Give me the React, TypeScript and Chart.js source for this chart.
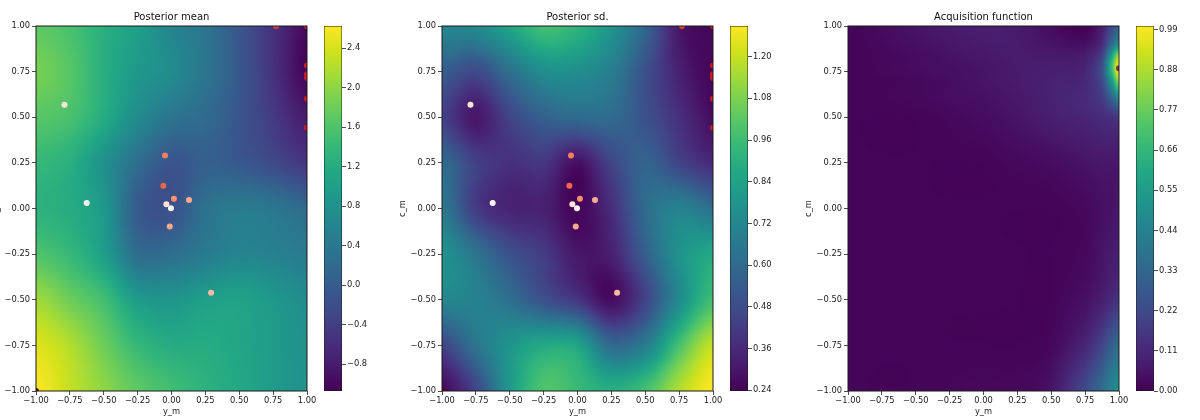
import React, { useEffect, useRef } from "react";
import { Chart, registerables } from "chart.js";
Chart.register(...registerables);

// ---------- data ----------
const axisTicks = [-1, -0.75, -0.5, -0.25, 0, 0.25, 0.5, 0.75, 1];
const gridX = [-1, -0.75, -0.5, -0.25, 0, 0.25, 0.5, 0.75, 1];
const gridY = [1, 0.75, 0.5, 0.25, 0, -0.25, -0.5, -0.75, -1];

// Posterior mean (rows = gridY top->bottom, cols = gridX)
const meanGrid = [
  [1.7, 1.55, 1.25, 1.0, 0.6, 0.35, -0.1, -0.55, -1.0],
  [1.85, 1.65, 1.25, 0.9, 0.7, 0.35, -0.05, -0.55, -1.05],
  [1.65, 1.55, 1.2, 0.7, 0.35, 0.2, -0.1, -0.45, -0.8],
  [1.4, 1.25, 0.8, 0.25, -0.1, 0.05, -0.05, -0.25, -0.5],
  [1.3, 1.2, 0.9, 0.0, -0.15, 0.3, 0.45, 0.38, 0.2],
  [1.6, 1.4, 1.0, 0.25, 0.25, 0.45, 0.6, 0.55, 0.45],
  [2.1, 1.8, 1.5, 0.95, 0.85, 1.0, 1.05, 0.9, 0.72],
  [2.45, 2.2, 1.8, 1.4, 1.2, 1.2, 1.1, 0.95, 0.78],
  [2.62, 2.3, 2.0, 1.7, 1.5, 1.3, 1.15, 0.95, 0.8],
];

// Posterior sd.
const sdGrid = [
  [0.72, 0.74, 0.85, 0.97, 0.92, 0.78, 0.58, 0.3, 0.26],
  [0.55, 0.47, 0.62, 0.75, 0.75, 0.68, 0.5, 0.33, 0.25],
  [0.44, 0.3, 0.45, 0.56, 0.6, 0.6, 0.5, 0.38, 0.27],
  [0.6, 0.44, 0.38, 0.4, 0.28, 0.45, 0.57, 0.45, 0.36],
  [0.66, 0.42, 0.34, 0.33, 0.25, 0.37, 0.6, 0.7, 0.62],
  [0.77, 0.64, 0.5, 0.42, 0.3, 0.33, 0.55, 0.77, 0.87],
  [0.72, 0.7, 0.62, 0.5, 0.4, 0.27, 0.45, 0.74, 0.97],
  [0.45, 0.64, 0.78, 0.87, 0.85, 0.6, 0.68, 0.98, 1.2],
  [0.25, 0.45, 0.8, 1.0, 0.95, 0.9, 0.98, 1.17, 1.29],
];

// Acquisition function (non-uniform grid to keep the narrow peak)
const acqGridX = [-1, -0.5, 0, 0.25, 0.5, 0.75, 0.875, 0.95, 1];
const acqGridY = [1, 0.9, 0.83, 0.77, 0.7, 0.6, 0.5, 0.25, 0, -0.25, -0.5, -0.75, -1];
const acqGrid = [
  [0.01, 0.05, 0.08, 0.07, 0.03, 0.0, 0.08, 0.22, 0.3],
  [0.01, 0.04, 0.07, 0.07, 0.05, 0.04, 0.12, 0.35, 0.5],
  [0.01, 0.03, 0.06, 0.07, 0.07, 0.08, 0.2, 0.6, 0.9],
  [0.01, 0.03, 0.05, 0.07, 0.08, 0.1, 0.25, 0.7, 1.0],
  [0.01, 0.02, 0.05, 0.07, 0.09, 0.11, 0.22, 0.55, 0.85],
  [0.01, 0.02, 0.04, 0.06, 0.09, 0.12, 0.17, 0.3, 0.45],
  [0.01, 0.01, 0.03, 0.05, 0.08, 0.1, 0.12, 0.14, 0.15],
  [0.01, 0.01, 0.01, 0.02, 0.03, 0.05, 0.06, 0.06, 0.06],
  [0.01, 0.01, 0.01, 0.01, 0.01, 0.02, 0.04, 0.05, 0.06],
  [0.01, 0.01, 0.01, 0.01, 0.01, 0.02, 0.05, 0.07, 0.08],
  [0.01, 0.01, 0.01, 0.01, 0.01, 0.04, 0.08, 0.12, 0.15],
  [0.01, 0.01, 0.01, 0.01, 0.02, 0.1, 0.2, 0.3, 0.35],
  [0.01, 0.01, 0.02, 0.02, 0.05, 0.22, 0.35, 0.45, 0.5],
];

// Observed points
const obsX = [-0.79, -0.048, -0.06, -0.626, -0.038, 0.018, 0.129, -0.004, -0.013, 0.292, 0.771, 1, 1, 1, 1, 1, 1, -1];
const obsY = [0.569, 0.291, 0.125, 0.03, 0.023, 0.054, 0.047, 0.001, -0.098, -0.461, 1, 1, 0.783, 0.735, 0.715, 0.602, 0.443, -1];
const obsColors = [
  "#fde5d9", "#f4805f", "#f26848", "#fff5f0", "#fee3d6", "#f9906f", "#fcab8f", "#fff5f0", "#fba98a",
  "#fcbba1", "#e2412f", "#cf1c1f", "#cf1c1f", "#cf1c1f", "#cf1c1f", "#cf1c1f", "#cf1c1f", "#67000d",
];
const nextX = [1];
const nextY = [0.768];
const nextColors = ["#8b2a4a"];

// Colour bars
const meanRange = [-1.073, 2.623];
const meanTicks = [-0.8, -0.4, 0.0, 0.4, 0.8, 1.2, 1.6, 2.0, 2.4];
const sdRange = [0.238, 1.288];
const sdTicks = [0.24, 0.36, 0.48, 0.6, 0.72, 0.84, 0.96, 1.08, 1.2];
const acqRange = [0, 1.0];
const acqTicks = [0, 0.11, 0.22, 0.33, 0.44, 0.55, 0.66, 0.77, 0.88, 0.99];

const titles = ["Posterior mean", "Posterior sd.", "Acquisition function"];

// ---------- helpers ----------
const FONT = "'DejaVu Sans', sans-serif";
const TXT = "#222";
const VIRIDIS = [
  "#440154", "#481a6c", "#472f7d", "#414487", "#39568c", "#31688e", "#2a788e", "#23888e",
  "#1f988b", "#22a884", "#35b779", "#54c568", "#7ad151", "#a5db36", "#d2e21b", "#fde725",
].map((h) => [parseInt(h.slice(1, 3), 16), parseInt(h.slice(3, 5), 16), parseInt(h.slice(5, 7), 16)]);

function viridis(t: number): number[] {
  t = Math.max(0, Math.min(1, t));
  const f = t * (VIRIDIS.length - 1);
  const i = Math.min(VIRIDIS.length - 2, Math.floor(f));
  const u = f - i;
  const a = VIRIDIS[i], b = VIRIDIS[i + 1];
  return [a[0] + (b[0] - a[0]) * u, a[1] + (b[1] - a[1]) * u, a[2] + (b[2] - a[2]) * u];
}

function fracIndex(grid: number[], v: number): number {
  const n = grid.length;
  for (let i = 0; i < n - 1; i++) {
    const a = grid[i], b = grid[i + 1];
    if (v >= Math.min(a, b) && v <= Math.max(a, b)) return i + (v - a) / (b - a);
  }
  const asc = grid[n - 1] > grid[0];
  if (asc) return v < grid[0] ? 0 : n - 1;
  return v > grid[0] ? 0 : n - 1;
}

function cubic(p0: number, p1: number, p2: number, p3: number, t: number) {
  return p1 + 0.5 * t * (p2 - p0 + t * (2 * p0 - 5 * p1 + 4 * p2 - p3 + t * (3 * (p1 - p2) + p3 - p0)));
}

function sample(g: number[][], fi: number, fj: number) {
  const rows = g.length, cols = g[0].length;
  const i = Math.min(Math.floor(fi), rows - 2), j = Math.min(Math.floor(fj), cols - 2);
  const ti = fi - i, tj = fj - j;
  const cl = (k: number, n: number) => Math.max(0, Math.min(n - 1, k));
  const rowVal = (r: number) => {
    const R = g[cl(r, rows)];
    return cubic(R[cl(j - 1, cols)], R[cl(j, cols)], R[cl(j + 1, cols)], R[cl(j + 2, cols)], tj);
  };
  return cubic(rowVal(i - 1), rowVal(i), rowVal(i + 1), rowVal(i + 2), ti);
}

function fmt(v: number, d: number) {
  const s = Math.abs(v).toFixed(d);
  return v < -1e-9 ? "\u2212" + s : s;
}

function heatPlugin(gx: number[], gy: number[], grid: number[][], range: number[]) {
  return {
    id: "heat",
    beforeDatasetsDraw(chart: any) {
      const { ctx, chartArea: a, scales } = chart;
      const w = Math.round(a.right - a.left), h = Math.round(a.bottom - a.top);
      const off = document.createElement("canvas");
      off.width = w;
      off.height = h;
      const octx = off.getContext("2d")!;
      const img = octx.createImageData(w, h);
      const fx: number[] = [], fy: number[] = [];
      for (let px = 0; px < w; px++) fx.push(fracIndex(gx, scales.x.getValueForPixel(a.left + px + 0.5)));
      for (let py = 0; py < h; py++) fy.push(fracIndex(gy, scales.y.getValueForPixel(a.top + py + 0.5)));
      for (let py = 0; py < h; py++) {
        for (let px = 0; px < w; px++) {
          const v = sample(grid, fy[py], fx[px]);
          const c = viridis((v - range[0]) / (range[1] - range[0]));
          const k = (py * w + px) * 4;
          img.data[k] = c[0];
          img.data[k + 1] = c[1];
          img.data[k + 2] = c[2];
          img.data[k + 3] = 255;
        }
      }
      octx.putImageData(img, 0, 0);
      ctx.drawImage(off, a.left, a.top, a.right - a.left, a.bottom - a.top);
    },
    afterDatasetsDraw(chart: any) {
      const { ctx, chartArea: a } = chart;
      ctx.save();
      ctx.strokeStyle = "#1a1a1a";
      ctx.lineWidth = 1;
      ctx.strokeRect(a.left, a.top, a.right - a.left, a.bottom - a.top);
      ctx.restore();
    },
  };
}

function axisOpts(kind: "x" | "y", title: string) {
  return {
    type: "linear",
    min: -1,
    max: 1,
    afterBuildTicks: (s: any) => {
      s.ticks = axisTicks.map((v) => ({ value: v }));
    },
    afterFit: (s: any) => {
      if (kind === "x") s.height = 29;
      else s.width = 46;
    },
    grid: { display: true, drawOnChartArea: false, drawTicks: true, tickLength: 4, color: TXT, lineWidth: 0.8 },
    border: { display: false },
    ticks: {
      autoSkip: false,
      maxRotation: 0,
      minRotation: 0,
      padding: kind === "x" ? 1 : 2,
      color: TXT,
      font: { family: FONT, size: 8.3 },
      callback: (v: number) => fmt(v, 2),
    },
    title: {
      display: true,
      text: title,
      color: TXT,
      font: { family: FONT, size: 8.3 },
      padding: kind === "x" ? { top: 0, bottom: 3.4 } : { top: 2, bottom: 0 },
    },
  };
}

function makePanel(canvas: HTMLCanvasElement, title: string, gx: number[], gy: number[], grid: number[][], range: number[], xs: number[], ys: number[], cols: string[]) {
  return new Chart(canvas, {
    type: "scatter",
    data: {
      datasets: [
        {
          data: xs.map((x, i) => ({ x, y: ys[i] })),
          pointBackgroundColor: cols,
          pointBorderWidth: 0,
          pointRadius: 3,
          pointHoverRadius: 3,
          clip: 0,
        } as any,
      ],
    },
    options: {
      responsive: false,
      animation: false,
      events: [],
      layout: { padding: { left: 0, right: 13, top: 0, bottom: 0 } },
      plugins: {
        legend: { display: false },
        tooltip: { enabled: false },
        title: {
          display: true,
          text: title,
          fullSize: false,
          color: "#111",
          font: { family: FONT, size: 10, weight: "normal" },
          padding: { top: 11, bottom: 3 },
        },
      },
      scales: { x: axisOpts("x", "y_m"), y: axisOpts("y", "c_m") } as any,
    },
    plugins: [heatPlugin(gx, gy, grid, range)],
  });
}

function makeColorbar(canvas: HTMLCanvasElement, range: number[], ticks: number[], dec: number) {
  let grad: any = null;
  return new Chart(canvas, {
    type: "bar",
    data: {
      labels: ["cb"],
      datasets: [
        {
          data: [[range[0], range[1]]] as any,
          backgroundColor: (c: any) => {
            const a = c.chart.chartArea;
            if (!a) return "#21918c";
            if (!grad) {
              grad = c.chart.ctx.createLinearGradient(0, a.bottom, 0, a.top);
              VIRIDIS.forEach((rgb, i) => grad.addColorStop(i / (VIRIDIS.length - 1), `rgb(${rgb[0]},${rgb[1]},${rgb[2]})`));
            }
            return grad;
          },
          borderColor: "#1a1a1a",
          borderWidth: 0.8,
          borderSkipped: false,
          barPercentage: 1,
          categoryPercentage: 1,
        } as any,
      ],
    },
    options: {
      responsive: false,
      animation: false,
      events: [],
      layout: { padding: { top: 26, bottom: 29, left: 0, right: 0 } },
      plugins: { legend: { display: false }, tooltip: { enabled: false }, title: { display: false } },
      scales: {
        x: { display: false },
        y: {
          position: "right",
          min: range[0],
          max: range[1],
          afterBuildTicks: (s: any) => {
            s.ticks = ticks.map((v) => ({ value: v }));
          },
          afterFit: (s: any) => {
            s.width = 52;
          },
          grid: { display: true, drawOnChartArea: false, drawTicks: true, tickLength: 4, color: TXT, lineWidth: 0.8 },
          border: { display: false },
          ticks: {
            padding: 1,
            color: TXT,
            font: { family: FONT, size: 8.3 },
            callback: (v: number) => fmt(v, dec),
          },
        },
      } as any,
    },
  });
}

const plotLefts = [36, 442, 848];

export default function App() {
  const panelRefs = [useRef<HTMLCanvasElement>(null), useRef<HTMLCanvasElement>(null), useRef<HTMLCanvasElement>(null)];
  const cbRefs = [useRef<HTMLCanvasElement>(null), useRef<HTMLCanvasElement>(null), useRef<HTMLCanvasElement>(null)];

  useEffect(() => {
    const charts: Chart[] = [];
    charts.push(makePanel(panelRefs[0].current!, titles[0], gridX, gridY, meanGrid, meanRange, obsX, obsY, obsColors));
    charts.push(makePanel(panelRefs[1].current!, titles[1], gridX, gridY, sdGrid, sdRange, obsX, obsY, obsColors));
    charts.push(makePanel(panelRefs[2].current!, titles[2], acqGridX, acqGridY, acqGrid, acqRange, nextX, nextY, nextColors));
    charts.push(makeColorbar(cbRefs[0].current!, meanRange, meanTicks, 1));
    charts.push(makeColorbar(cbRefs[1].current!, sdRange, sdTicks, 2));
    charts.push(makeColorbar(cbRefs[2].current!, acqRange, acqTicks, 2));
    return () => charts.forEach((c) => c.destroy());
  }, []);

  return (
    <div style={{ position: "absolute", left: 0, top: 0, width: 1200, height: 420, overflow: "hidden", background: "#fff" }}>
      {plotLefts.map((pl, i) => (
        <React.Fragment key={i}>
          <canvas
            ref={panelRefs[i]}
            width={330}
            height={420}
            style={{ position: "absolute", left: pl - 46, top: 0, width: 330, height: 420 }}
          />
          <canvas
            ref={cbRefs[i]}
            width={70}
            height={420}
            style={{ position: "absolute", left: pl + 288, top: 0, width: 70, height: 420 }}
          />
        </React.Fragment>
      ))}
    </div>
  );
}
